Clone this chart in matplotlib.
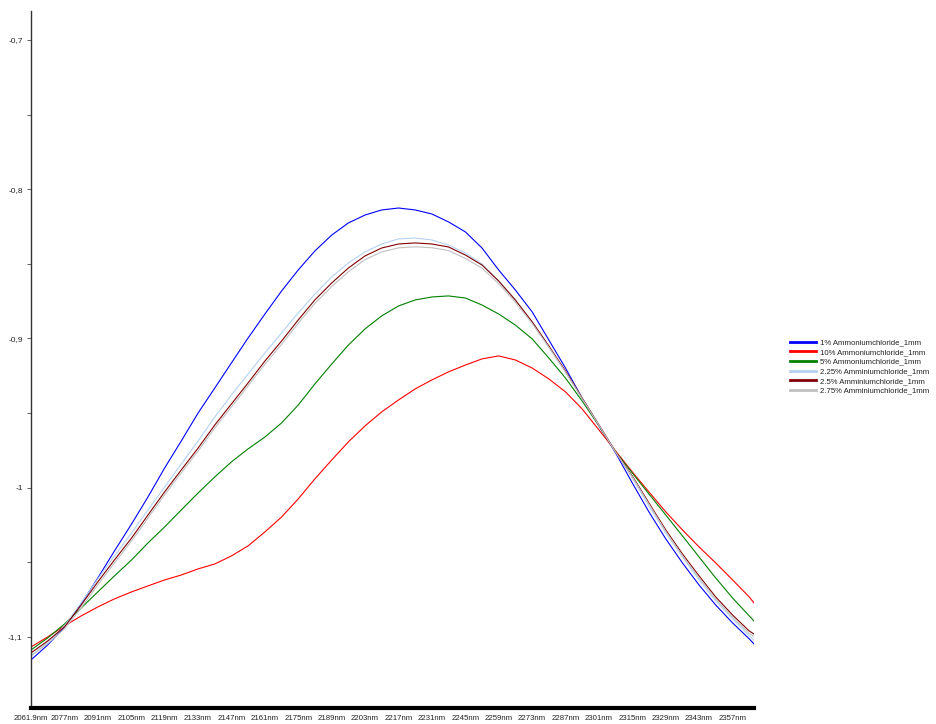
import matplotlib
matplotlib.use("Agg")
import matplotlib.pyplot as plt
from matplotlib.ticker import FixedLocator, MultipleLocator, FuncFormatter

plt.rcParams['font.family'] = ['Liberation Sans', 'DejaVu Sans']

# wavelength (nm) of the sampled points
wavelength = [2061.9, 2068.9, 2076.0, 2083.0, 2090.0, 2097.0, 2104.2, 2111.1, 2118.1,
              2125.1, 2132.2, 2139.2, 2146.2, 2153.2, 2160.3, 2167.3, 2174.3, 2181.3,
              2188.4, 2195.4, 2202.4, 2209.4, 2216.5, 2223.5, 2230.5, 2237.5, 2244.6,
              2251.6, 2258.6, 2265.6, 2272.7, 2279.7, 2286.7, 2293.7, 2300.8, 2307.8,
              2314.8, 2321.8, 2328.9, 2335.9, 2342.9, 2349.9, 2357.0, 2364.0, 2366.0]

nh4cl_1 = [-1.1154, -1.1054, -1.0933, -1.0779, -1.0605, -1.0424, -1.0243, -1.0062, -0.9868,
           -0.9687, -0.9499, -0.9332, -0.9164, -0.8997, -0.8836, -0.8682, -0.8541, -0.8414,
           -0.8307, -0.8226, -0.8173, -0.8139, -0.8126, -0.8139, -0.8166, -0.8219, -0.8286,
           -0.8394, -0.8541, -0.8675, -0.8822, -0.9010, -0.9198, -0.9399, -0.9586, -0.9767,
           -0.9968, -1.0162, -1.0343, -1.0504, -1.0652, -1.0786, -1.0906, -1.1013, -1.1047]

nh4cl_10 = [-1.1067, -1.1000, -1.0926, -1.0859, -1.0799, -1.0745, -1.0698, -1.0658, -1.0618,
            -1.0585, -1.0544, -1.0511, -1.0457, -1.0390, -1.0296, -1.0196, -1.0075, -0.9941,
            -0.9814, -0.9693, -0.9586, -0.9492, -0.9412, -0.9338, -0.9278, -0.9224, -0.9178,
            -0.9137, -0.9117, -0.9144, -0.9198, -0.9271, -0.9358, -0.9472, -0.9613, -0.9754,
            -0.9894, -1.0028, -1.0162, -1.0283, -1.0397, -1.0504, -1.0618, -1.0732, -1.0772]

nh4cl_5 = [-1.1087, -1.1007, -1.0913, -1.0806, -1.0698, -1.0591, -1.0484, -1.0370, -1.0263,
           -1.0149, -1.0035, -0.9928, -0.9827, -0.9740, -0.9660, -0.9566, -0.9446, -0.9305,
           -0.9171, -0.9044, -0.8936, -0.8849, -0.8782, -0.8742, -0.8722, -0.8715, -0.8729,
           -0.8776, -0.8836, -0.8910, -0.9003, -0.9131, -0.9265, -0.9419, -0.9586, -0.9760,
           -0.9901, -1.0042, -1.0183, -1.0323, -1.0464, -1.0605, -1.0739, -1.0859, -1.0893]

nh4cl_225 = [-1.1127, -1.1034, -1.0926, -1.0772, -1.0611, -1.0457, -1.0303, -1.0149, -0.9995,
             -0.9841, -0.9687, -0.9526, -0.9379, -0.9238, -0.9097, -0.8963, -0.8829, -0.8702,
             -0.8588, -0.8494, -0.8420, -0.8367, -0.8333, -0.8327, -0.8340, -0.8374, -0.8427,
             -0.8501, -0.8615, -0.8742, -0.8889, -0.9057, -0.9224, -0.9399, -0.9580, -0.9760,
             -0.9935, -1.0122, -1.0303, -1.0464, -1.0618, -1.0759, -1.0879, -1.0993, -1.1020]

nh4cl_25 = [-1.1107, -1.1027, -1.0933, -1.0786, -1.0631, -1.0484, -1.0337, -1.0183, -1.0028,
            -0.9881, -0.9734, -0.9580, -0.9439, -0.9298, -0.9151, -0.9017, -0.8876, -0.8742,
            -0.8628, -0.8528, -0.8447, -0.8394, -0.8367, -0.8360, -0.8367, -0.8387, -0.8441,
            -0.8508, -0.8615, -0.8742, -0.8889, -0.9050, -0.9218, -0.9399, -0.9580, -0.9760,
            -0.9921, -1.0102, -1.0283, -1.0444, -1.0591, -1.0732, -1.0853, -1.0960, -1.0980]

nh4cl_275 = [-1.1127, -1.1045, -1.0945, -1.0805, -1.0651, -1.0504, -1.0357, -1.0203, -1.0048,
             -0.9901, -0.9754, -0.9600, -0.9459, -0.9318, -0.9172, -0.9039, -0.8898, -0.8765,
             -0.8652, -0.8553, -0.8472, -0.8420, -0.8393, -0.8386, -0.8392, -0.8411, -0.8464,
             -0.8529, -0.8633, -0.8757, -0.8900, -0.9058, -0.9224, -0.9403, -0.9582, -0.9762,
             -0.9926, -1.0110, -1.0293, -1.0456, -1.0604, -1.0746, -1.0868, -1.0977, -1.0998]

series_labels = ['1% Ammoniumchloride_1mm', '10% Ammoniumchloride_1mm', '5% Ammoniumchloride_1mm',
                 '2.25% Amminiumchloride_1mm', '2.5% Amminiumchloride_1mm', '2.75% Amminiumchloride_1mm']
series_colors = ['#0000ff', '#ff0000', '#008000', '#b4d2f0', '#800000', '#c0c0c0']

x_tick_labels = ['2061.9nm', '2077nm', '2091nm', '2105nm', '2119nm', '2133nm', '2147nm', '2161nm',
                 '2175nm', '2189nm', '2203nm', '2217nm', '2231nm', '2245nm', '2259nm', '2273nm',
                 '2287nm', '2301nm', '2315nm', '2329nm', '2343nm', '2357nm']
x_tick_pos = [2061.9 + 14.05 * i for i in range(len(x_tick_labels))]

fig = plt.figure(figsize=(9.36, 7.24), dpi=100)
ax = fig.add_axes([31/936, 16/724, (754-31)/936, (708-11)/724])

series = [nh4cl_1, nh4cl_10, nh4cl_5, nh4cl_225, nh4cl_25, nh4cl_275]
for vals, lab, col in zip(series, series_labels, series_colors):
    ax.plot(wavelength, vals, color=col, lw=0.8, label=lab)

ax.set_xlim(2061.9, 2366.0)
ax.set_ylim(-1.1476, -0.6806)

ax.xaxis.set_major_locator(FixedLocator(x_tick_pos))
ax.set_xticklabels(x_tick_labels)
ax.tick_params(axis='x', length=0, pad=5, labelsize=5.6, colors='#222222')

ax.yaxis.set_major_locator(MultipleLocator(0.1))
ax.yaxis.set_minor_locator(MultipleLocator(0.05))
ax.yaxis.set_major_formatter(FuncFormatter(lambda v, p: ('%g' % round(v, 2)).replace('.', ',')))
ax.tick_params(axis='y', which='both', length=3, width=0.6, color='#444444',
               pad=3, labelsize=6, labelcolor='#222222')

for s in ['top', 'right']:
    ax.spines[s].set_visible(False)
ax.spines['left'].set_color('#333333')
ax.spines['left'].set_linewidth(1.0)
ax.spines['bottom'].set_color('black')
ax.spines['bottom'].set_linewidth(3.0)

leg = fig.legend(loc='upper left', bbox_to_anchor=(790/936, 1 - 339/724), frameon=False,
                 fontsize=5.6, handlelength=3.3, handletextpad=0.5, labelspacing=0.28,
                 borderpad=0, borderaxespad=0)
for line in leg.get_lines():
    line.set_linewidth(2.0)
for t in leg.get_texts():
    t.set_color('#222222')

fig.savefig('out.png', dpi=100)
